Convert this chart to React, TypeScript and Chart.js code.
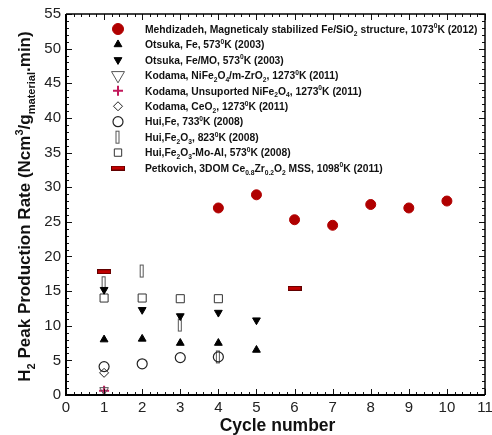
import React, { useEffect, useRef } from 'react';
import { Chart, registerables } from 'chart.js';
import { drawPoint } from 'chart.js/helpers';

Chart.register(...registerables);

// ---- data ----
const mehdizadehCycles = [4, 5, 6, 7, 8, 9, 10];
const mehdizadehRate = [27.0, 28.9, 25.3, 24.5, 27.5, 27.0, 28.0];
const otsukaFeCycles = [1, 2, 3, 4, 5];
const otsukaFeRate = [8.0, 8.1, 7.5, 7.5, 6.5];
const otsukaMOCycles = [1, 2, 3, 4, 5];
const otsukaMORate = [15.2, 12.3, 11.4, 11.9, 10.8];
const kodamaZrCycles = [1];
const kodamaZrRate = [0.7];
const kodamaNiCycles = [1];
const kodamaNiRate = [0.6];
const kodamaCeCycles = [1];
const kodamaCeRate = [3.2];
const huiFeCycles = [1, 2, 3, 4];
const huiFeRate = [4.1, 4.5, 5.4, 5.5];
const huiFe2O3Cycles = [1, 2, 3, 4];
const huiFe2O3Rate = [16.2, 17.9, 10.1, 5.5];
const huiMoAlCycles = [1, 2, 3, 4];
const huiMoAlRate = [14.0, 14.0, 13.9, 13.9];
const petkovichCycles = [1, 6];
const petkovichRate = [17.8, 15.4];

const seriesLabels = [
  'Mehdizadeh, Magneticaly stabilized Fe/SiO_{2} structure, 1073^{0}K (2012)',
  'Otsuka, Fe, 573^{0}K (2003)',
  'Otsuka, Fe/MO, 573^{0}K (2003)',
  'Kodama, NiFe_{2}O_{4}/m-ZrO_{2}, 1273^{0}K (2011)',
  'Kodama, Unsuported NiFe_{2}O_{4}, 1273^{0}K (2011)',
  'Kodama, CeO_{2}, 1273^{0}K (2011)',
  'Hui,Fe, 733^{0}K (2008)',
  'Hui,Fe_{2}O_{3}, 823^{0}K (2008)',
  'Hui,Fe_{2}O_{3}-Mo-Al, 573^{0}K (2008)',
  'Petkovich, 3DOM Ce_{0.8}Zr_{0.2}O_{2} MSS, 1098^{0}K (2011)',
];

const xTicks = [0, 1, 2, 3, 4, 5, 6, 7, 8, 9, 10, 11];
const yTicks = [0, 5, 10, 15, 20, 25, 30, 35, 40, 45, 50, 55];
const xTitle = 'Cycle number';
const yTitle = 'H_{2} Peak Production Rate (Ncm^{3}/g_{material}.min)';

const FONT = '"Liberation Sans", Arial, Helvetica, sans-serif';

type Part = { t: string; k: 'n' | 'sub' | 'sup' };
function parseRich(s: string): Part[] {
  const parts: Part[] = [];
  const re = /([_^])\{([^}]*)\}/g;
  let last = 0;
  let m: RegExpExecArray | null;
  while ((m = re.exec(s))) {
    if (m.index > last) parts.push({ t: s.slice(last, m.index), k: 'n' });
    parts.push({ t: m[2], k: m[1] === '_' ? 'sub' : 'sup' });
    last = re.lastIndex;
  }
  if (last < s.length) parts.push({ t: s.slice(last), k: 'n' });
  return parts;
}

function drawRich(ctx: CanvasRenderingContext2D, s: string, x: number, y: number, size: number, weight: string, align: 'left' | 'center', color: string) {
  const parts = parseRich(s);
  const fontFor = (k: string) => `${weight} ${k === 'n' ? size : size * 0.65}px ${FONT}`;
  let total = 0;
  for (const p of parts) {
    ctx.font = fontFor(p.k);
    total += ctx.measureText(p.t).width;
  }
  let cx = align === 'center' ? x - total / 2 : x;
  ctx.textAlign = 'left';
  ctx.textBaseline = 'alphabetic';
  ctx.fillStyle = color;
  for (const p of parts) {
    ctx.font = fontFor(p.k);
    const dy = p.k === 'sub' ? size * 0.28 : p.k === 'sup' ? -size * 0.42 : 0;
    ctx.fillText(p.t, cx, y + dy);
    cx += ctx.measureText(p.t).width;
  }
}

export default function App() {
  const ref = useRef<HTMLCanvasElement | null>(null);

  useEffect(() => {
    const canvas = ref.current;
    if (!canvas) return;

    const rectMarker = document.createElement('canvas');
    rectMarker.width = 7;
    rectMarker.height = 15;
    {
      const c = rectMarker.getContext('2d')!;
      c.strokeStyle = '#555';
      c.lineWidth = 1;
      c.strokeRect(1.5, 1.5, 3, 12);
    }
    const dashMarker = document.createElement('canvas');
    dashMarker.width = 14;
    dashMarker.height = 5;
    {
      const c = dashMarker.getContext('2d')!;
      c.fillStyle = '#c00000';
      c.fillRect(0.5, 0.5, 13, 4);
      c.strokeStyle = '#600000';
      c.lineWidth = 1;
      c.strokeRect(0.5, 0.5, 13, 4);
    }

    const styles: any[] = [
      { pointStyle: 'circle', radius: 5, lr: 5.5, rotation: 0, fill: '#b00000', stroke: '#b00000', bw: 1 },
      { pointStyle: 'triangle', radius: 4.5, lr: 4.5, rotation: 0, fill: '#000', stroke: '#000', bw: 1 },
      { pointStyle: 'triangle', radius: 4.5, lr: 4.5, rotation: 180, fill: '#000', stroke: '#000', bw: 1 },
      { pointStyle: 'triangle', radius: 5, lr: 7.5, rotation: 180, fill: 'rgba(0,0,0,0)', stroke: '#555', bw: 1 },
      { pointStyle: 'cross', radius: 5, lr: 5, rotation: 0, fill: '#c2185b', stroke: '#c2185b', bw: 2 },
      { pointStyle: 'rectRot', radius: 4.5, lr: 4.5, rotation: 0, fill: 'rgba(0,0,0,0)', stroke: '#222', bw: 1 },
      { pointStyle: 'circle', radius: 5, lr: 5, rotation: 0, fill: 'rgba(0,0,0,0)', stroke: '#222', bw: 1.2 },
      { pointStyle: rectMarker, radius: 5, lr: 5, rotation: 0, fill: 'rgba(0,0,0,0)', stroke: '#555', bw: 1 },
      { pointStyle: 'rect', radius: 5.7, lr: 5.2, rotation: 0, fill: 'rgba(0,0,0,0)', stroke: '#333', bw: 1 },
      { pointStyle: dashMarker, radius: 6, lr: 6, rotation: 0, fill: '#c00000', stroke: '#600000', bw: 1 },
    ];

    const seriesData: [number[], number[]][] = [
      [mehdizadehCycles, mehdizadehRate],
      [otsukaFeCycles, otsukaFeRate],
      [otsukaMOCycles, otsukaMORate],
      [kodamaZrCycles, kodamaZrRate],
      [kodamaNiCycles, kodamaNiRate],
      [kodamaCeCycles, kodamaCeRate],
      [huiFeCycles, huiFeRate],
      [huiFe2O3Cycles, huiFe2O3Rate],
      [huiMoAlCycles, huiMoAlRate],
      [petkovichCycles, petkovichRate],
    ];

    const datasets = seriesData.map(([xs, ys], i) => {
      const s = styles[i];
      return {
        label: seriesLabels[i],
        data: xs.map((x, j) => ({ x, y: ys[j] })),
        pointStyle: s.pointStyle,
        pointRadius: s.radius,
        pointRotation: s.rotation,
        pointBackgroundColor: s.fill,
        pointBorderColor: s.stroke,
        pointBorderWidth: s.bw,
        showLine: false,
        clip: false as any,
      };
    });

    const framePlugin = {
      id: 'frame',
      afterDraw(chart: any) {
        const ctx: CanvasRenderingContext2D = chart.ctx;
        const { left, right, top, bottom } = chart.chartArea;
        const xs = chart.scales.x;
        const ys = chart.scales.y;
        ctx.save();
        // ticks
        ctx.strokeStyle = '#111';
        ctx.lineWidth = 1;
        ctx.beginPath();
        for (let v = 0; v <= 11.0001; v += 0.2) {
          const px = Math.round(xs.getPixelForValue(v)) + 0.5;
          const major = Math.abs(v - Math.round(v)) < 1e-6;
          const len = major ? 6 : 3;
          ctx.moveTo(px, bottom);
          ctx.lineTo(px, bottom - len);
          ctx.moveTo(px, top);
          ctx.lineTo(px, top + len);
        }
        for (let v = 0; v <= 55.0001; v += 1) {
          const py = Math.round(ys.getPixelForValue(v)) + 0.5;
          const major = v % 5 === 0;
          const len = major ? 6 : 3;
          ctx.moveTo(left, py);
          ctx.lineTo(left + len, py);
          ctx.moveTo(right, py);
          ctx.lineTo(right - len, py);
        }
        ctx.stroke();
        // frame
        ctx.strokeStyle = '#000';
        ctx.lineWidth = 1.5;
        ctx.beginPath();
        ctx.moveTo(left, top);
        ctx.lineTo(right, top);
        ctx.lineTo(right, bottom);
        ctx.stroke();
        ctx.lineWidth = 2;
        ctx.beginPath();
        ctx.moveTo(left, top);
        ctx.lineTo(left, bottom);
        ctx.lineTo(right, bottom);
        ctx.stroke();

        // tick labels
        ctx.fillStyle = '#222';
        ctx.font = `15px ${FONT}`;
        ctx.textAlign = 'right';
        ctx.textBaseline = 'middle';
        for (const v of yTicks) {
          ctx.fillText(String(v), left - 5, ys.getPixelForValue(v));
        }
        ctx.textAlign = 'center';
        ctx.textBaseline = 'top';
        for (const v of xTicks) {
          ctx.fillText(String(v), xs.getPixelForValue(v), bottom + 5);
        }

        // axis titles
        ctx.fillStyle = '#111';
        ctx.font = `bold 17.5px ${FONT}`;
        ctx.textAlign = 'center';
        ctx.textBaseline = 'middle';
        ctx.fillText(xTitle, (left + right) / 2 + 2, 426);

        ctx.save();
        ctx.translate(24, (top + bottom) / 2 + 2);
        ctx.rotate(-Math.PI / 2);
        drawRich(ctx, yTitle, 0, 17 * 0.36, 17, 'bold', 'center', '#111');
        ctx.restore();

        // legend
        const mx = 118;
        const tx = 145;
        for (let i = 0; i < seriesLabels.length; i++) {
          const y = 29 + i * 15.45;
          const s = styles[i];
          ctx.fillStyle = s.fill;
          ctx.strokeStyle = s.stroke;
          ctx.lineWidth = s.bw;
          drawPoint(ctx, { pointStyle: s.pointStyle, radius: s.lr, rotation: s.rotation, borderWidth: s.bw } as any, mx, y);
          drawRich(ctx, seriesLabels[i], tx, y + 10.3 * 0.36, 10.3, 'bold', 'left', '#111');
        }
        ctx.restore();
      },
    };

    const chart = new Chart(canvas, {
      type: 'scatter',
      data: { datasets: datasets as any },
      options: {
        animation: false,
        responsive: false,
        devicePixelRatio: 1,
        layout: { padding: { left: 66, right: 5, top: 14, bottom: 40 } },
        scales: {
          x: { type: 'linear', min: 0, max: 11, display: false },
          y: { type: 'linear', min: 0, max: 55, display: false },
        },
        plugins: { legend: { display: false }, tooltip: { enabled: false } },
      },
      plugins: [framePlugin],
    });
    return () => chart.destroy();
  }, []);

  return (
    <div style={{ position: 'absolute', left: 0, top: 0, width: 492, height: 435, background: '#fff' }}>
      <canvas ref={ref} width={492} height={435} style={{ display: 'block', width: 492, height: 435 }} />
    </div>
  );
}
